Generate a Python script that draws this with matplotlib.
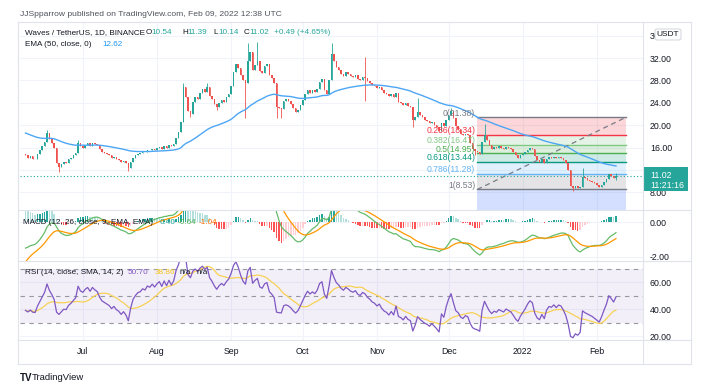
import numpy as np
import pandas as pd
import matplotlib
matplotlib.use('Agg')
import matplotlib.pyplot as plt
import matplotlib.dates as mdates
from matplotlib.lines import Line2D
from matplotlib.patches import Rectangle, FancyBboxPatch

plt.rcParams['font.family'] = ['Liberation Sans', 'DejaVu Sans']

W, H = 704, 388

# Waves / USDT daily closes, Jun 7 2021 -> Feb 9 2022
closes = [
    # Jun 7-30
    14.6, 14.2, 14.5, 14.0, 13.9, 14.8, 15.5, 16.2, 17.0, 18.6, 17.6, 16.9,
    16.0, 13.2, 12.6, 13.0, 13.4, 13.3, 13.9, 14.2, 14.6, 15.0, 16.9, 16.2,
    # Jul
    16.0, 16.5, 16.8, 16.3, 16.9, 16.6, 16.4, 15.7, 15.2, 15.0, 14.8, 14.6,
    14.2, 14.4, 14.0, 13.8, 13.4, 13.6, 13.2, 12.4, 13.4, 14.2, 14.6, 14.9,
    15.0, 15.3, 15.2, 15.6, 15.5, 15.8, 15.6,
    # Aug
    15.9, 16.1, 15.8, 16.3, 16.0, 16.5, 16.2, 16.6, 17.8, 18.7, 20.5, 26.8,
    25.0, 22.5, 22.0, 24.2, 25.0, 24.6, 25.8, 26.5, 26.0, 26.8, 25.2, 24.6,
    23.8, 23.2, 24.0, 24.5, 24.2, 25.0, 25.6,
    # Sep
    27.0, 29.5, 31.0, 30.2, 29.0, 28.0, 27.5, 31.5, 33.0, 29.8, 30.8, 31.5,
    29.6, 29.3, 30.6, 31.0, 29.0, 28.4, 27.6, 23.2, 23.0, 22.9, 24.4, 24.6,
    24.3, 23.8, 23.0, 22.4, 22.8, 23.6,
    # Oct
    24.5, 25.5, 26.3, 25.8, 26.2, 25.9, 26.5, 27.8, 28.2, 26.3, 25.5, 28.0,
    32.8, 31.5, 30.4, 29.9, 29.2, 28.8, 29.5, 29.2, 28.8, 28.6, 28.9, 28.3,
    28.1, 28.6, 28.4, 27.9, 27.6, 27.2, 27.0,
    # Nov
    26.6, 26.8, 26.2, 25.8, 25.6, 25.2, 25.5, 25.0, 25.8, 24.2, 24.0, 23.6,
    23.9, 23.4, 23.2, 21.0, 21.5, 22.3, 21.8, 21.4, 21.0, 20.8, 20.4, 20.6,
    20.1, 19.6, 18.9, 20.4, 19.8, 20.9,
    # Dec
    21.8, 22.5, 21.2, 19.8, 19.4, 18.5, 18.2, 18.5, 18.3, 16.9, 15.8, 15.4,
    15.2, 14.8, 17.0, 18.2, 17.3, 16.4, 15.8, 16.1, 15.9, 16.2, 16.0, 15.8,
    16.1, 15.9, 15.7, 15.2, 14.6, 14.2, 14.6,
    # Jan
    14.9, 15.2, 15.6, 15.9, 15.7, 14.5, 13.8, 13.5, 13.9, 13.3, 14.0, 14.3,
    14.2, 14.4, 14.1, 14.3, 14.2, 13.8, 13.2, 12.0, 9.2, 8.8, 9.1, 8.7,
    8.9, 10.8, 10.5, 10.3, 10.1, 9.9, 9.6,
    # Feb 1-9
    9.3, 9.0, 9.4, 9.9, 10.4, 11.2, 10.9, 10.54, 11.02,
]
first_open = 14.9
wick_high = {'2021-06-16': 19.1, '2021-06-29': 17.3, '2021-08-12': 27.5,
             '2021-08-22': 27.6, '2021-09-08': 34.7, '2021-09-12': 34.9,
             '2021-10-13': 34.7, '2021-10-27': 32.2, '2021-11-18': 24.8,
             '2021-12-02': 23.0, '2021-12-16': 20.3, '2022-01-26': 12.3,
             '2022-02-09': 11.39}
wick_low = {'2021-06-21': 11.7, '2021-07-20': 11.9, '2021-08-15': 21.5,
            '2021-08-26': 22.7, '2021-09-07': 21.3, '2021-09-20': 21.3,
            '2021-09-22': 21.3, '2021-10-27': 24.3, '2021-11-16': 19.7,
            '2021-12-12': 14.7, '2022-01-22': 8.2, '2022-02-09': 10.14}

# indicator states at the first visible bar
ema50_seed = 18.6
ema12_seed, ema26_seed, signal_seed = 14.9, 16.4, -2.3
rsi_gain_seed, rsi_loss_seed = 0.40, 0.62

fib_start, fib_end = '2021-12-13', '2022-02-13'
fib_levels = ['0', '0.236', '0.382', '0.5', '0.618', '0.786', '1']
fib_values = [21.38, 18.34, 16.47, 14.95, 13.44, 11.28, 8.53]
fib_colors = ['#787b86', '#f23645', '#81c784', '#4caf50', '#089981', '#64b5f6', '#787b86']
fib_ext_value, fib_ext_color = 0.59, '#2962ff'

price_ticks = [8, 12, 16, 20, 24, 28, 32, 36]
month_ticks = ['2021-07-01', '2021-08-01', '2021-09-01', '2021-10-01',
               '2021-11-01', '2021-12-01', '2022-01-01', '2022-02-01']
month_labels = ['Jul', 'Aug', 'Sep', 'Oct', 'Nov', 'Dec', '2022', 'Feb']

# ---- derived series
dates = pd.date_range(end='2022-02-09', periods=len(closes))
x = mdates.date2num(dates)
close = np.array(closes)
opens = np.r_[first_open, close[:-1]]
highs = np.maximum(opens, close)
lows = np.minimum(opens, close)
for d, v in wick_high.items():
    highs[dates.get_loc(pd.Timestamp(d))] = v
for d, v in wick_low.items():
    lows[dates.get_loc(pd.Timestamp(d))] = v


def ema(values, seed, n):
    k = 2 / (n + 1)
    out = np.empty(len(values))
    prev = seed
    for i, v in enumerate(values):
        if i > 0:
            prev = prev + k * (v - prev)
        out[i] = prev
    return out


ema50 = ema(close, ema50_seed, 50)
macd = ema(close, ema12_seed, 12) - ema(close, ema26_seed, 26)
signal = ema(macd, signal_seed, 9)
hist = macd - signal

g, l = rsi_gain_seed, rsi_loss_seed
rsi = []
for i in range(len(close)):
    if i > 0:
        d = close[i] - close[i - 1]
        g = (g * 13 + max(d, 0)) / 14
        l = (l * 13 + max(-d, 0)) / 14
    rsi.append(100 - 100 / (1 + g / l))
rsi = np.array(rsi)
rsi_sma = pd.Series(rsi).rolling(14, min_periods=1).mean().values

# ---- figure
fig = plt.figure(figsize=(W / 100, H / 100), dpi=100)


def box(top, bottom):
    return [20 / W, 1 - bottom / H, 623 / W, (bottom - top) / H]


ax_p = fig.add_axes(box(23, 210))
ax_m = fig.add_axes(box(210, 261), sharex=ax_p)
ax_r = fig.add_axes(box(261, 340), sharex=ax_p)

mt = mdates.date2num(pd.to_datetime(month_ticks))
for ax in (ax_p, ax_m, ax_r):
    for s in ax.spines.values():
        s.set_visible(False)
    ax.set_facecolor('none')
    for m in mt:
        ax.axvline(m, color='#f0f3fa', lw=0.8, zorder=0)
    ax.yaxis.tick_right()
    ax.tick_params(axis='y', length=0, pad=5, labelsize=6.3, labelcolor='#131722')
    ax.tick_params(axis='x', length=0)

ax_p.set_xlim(x[0] - 2.3, x[0] + 258.3)
ax_p.set_ylim(4.86, 38.25)
ax_m.set_ylim(-2.25, 0.715)
ax_r.set_ylim(17.3, 75.8)

# price pane
ax_p.set_yticks(price_ticks)
ax_p.set_yticklabels([f'{t:.2f}' for t in price_ticks])
for t in price_ticks:
    ax_p.axhline(t, color='#f0f3fa', lw=0.8, zorder=0)

fs = mdates.date2num(pd.Timestamp(fib_start))
fe = mdates.date2num(pd.Timestamp(fib_end))
for j in range(len(fib_values) - 1):
    ax_p.fill_between([fs, fe], fib_values[j], fib_values[j + 1],
                      color=fib_colors[j + 1], alpha=0.2, lw=0, zorder=1)
ax_p.fill_between([fs, fe], fib_values[-1], fib_ext_value,
                  color=fib_ext_color, alpha=0.2, lw=0, zorder=1)
for lvl, v, c in zip(fib_levels, fib_values, fib_colors):
    ax_p.plot([fs, fe], [v, v], color=c, lw=1.0, zorder=2)
    ax_p.annotate(f'{lvl}({v:.2f})', (fs, v), xytext=(-1.5, 3.2),
                  textcoords='offset points', ha='right', va='center',
                  fontsize=6.2, color=c, zorder=6)
ax_p.plot([fs, fe], [fib_values[-1], fib_values[0]], color='#787b86',
          lw=0.9, ls=(0, (4, 3)), zorder=2)

ax_p.axhline(close[-1], color='#26a69a', lw=0.8, ls=(0, (1, 2)), zorder=2)
ax_p.plot(x, ema50, color='#4da6f5', lw=1.0, zorder=5)

up = close >= opens
ccol = np.where(up, '#26a69a', '#ef5350')
ax_p.vlines(x, lows, highs, colors=ccol, lw=0.6, zorder=3)
body = np.maximum(np.abs(close - opens), 0.08)
ax_p.bar(x, body, bottom=np.minimum(opens, close), width=0.65, color=ccol,
         lw=0, zorder=4)

# MACD pane
ax_m.set_yticks([0, -2])
ax_m.set_yticklabels(['0.00', '-2.00'])
for t in (0, -2):
    ax_m.axhline(t, color='#f0f3fa', lw=0.8, zorder=0)
hcol = []
for i, h in enumerate(hist):
    prev = hist[i - 1] if i > 0 else h
    if h >= 0:
        hcol.append('#26a69a' if h > prev else '#b2dfdb')
    else:
        hcol.append('#ff5252' if h < prev else '#ffcdd2')
ax_m.bar(x, hist, width=0.6, color=hcol, lw=0, zorder=2)
ax_m.plot(x, macd, color='#66bb6a', lw=0.9, zorder=3)
ax_m.plot(x, signal, color='#ff9800', lw=0.9, zorder=3)

# RSI pane
ax_r.set_yticks([60, 40, 20])
ax_r.set_yticklabels(['60.00', '40.00', '20.00'])
for t in (60, 40, 20):
    ax_r.axhline(t, color='#f0f3fa', lw=0.8, zorder=0)
ax_r.axhspan(30, 70, color='#7e57c2', alpha=0.09, lw=0, zorder=1)
for t in (70, 50, 30):
    ax_r.axhline(t, color='#9598a1', lw=0.8, ls=(0, (4, 4)), zorder=2)
ax_r.plot(x, rsi, color='#7e57c2', lw=0.9, zorder=4)
ax_r.plot(x, rsi_sma, color='#f7d154', lw=0.9, zorder=3)

ax_r.set_xticks(mt)
ax_r.set_xticklabels(month_labels)
ax_r.tick_params(axis='x', pad=5, labelsize=6.3, labelcolor='#131722')
plt.setp(ax_p.get_xticklabels(), visible=False)
plt.setp(ax_m.get_xticklabels(), visible=False)

# frame lines
lc = '#e0e3eb'
for (x0, y0, x1, y1) in [(18, 22, 691, 22), (18, 364, 691, 364), (18, 22, 18, 364),
                         (691, 22, 691, 364), (643, 22, 643, 364),
                         (18, 210, 691, 210), (18, 261, 691, 261), (18, 340, 691, 340)]:
    fig.add_artist(Line2D([x0 / W, x1 / W], [1 - y0 / H, 1 - y1 / H], color=lc, lw=0.8))


def ftext(px, py, s, **kw):
    kw.setdefault('fontsize', 5.9)
    kw.setdefault('va', 'center')
    return fig.text(px / W, 1 - py / H, s, **kw)


ftext(20, 14, 'JJSpparrow published on TradingView.com, Feb 09, 2022 12:38 UTC',
      color='#50535e', fontsize=6.1)
ftext(25, 33, 'Waves / TetherUS, 1D, BINANCE', color='#131722')
for px, lab, val in [(146, 'O', '10.54'), (182, 'H', '11.39'), (213, 'L', '10.14'), (244, 'C', '11.02')]:
    ftext(px, 33, lab, color='#131722')
    ftext(px + 5, 33, val, color='#26a69a')
ftext(274, 33, '+0.49 (+4.65%)', color='#26a69a')
ftext(25, 44, 'EMA (50, close, 0)', color='#131722')
ftext(102, 44, '12.62', color='#2196f3')

ftext(23, 222, 'MACD (12, 26, close, 9, EMA, EMA)', color='#131722')
ftext(160, 222, '0.40', color='#26a69a')
ftext(178, 222, '-0.64', color='#4caf50')
ftext(199, 222, '-1.04', color='#ff6d00')

ftext(25, 272, 'RSI (14, close, SMA, 14, 2)', color='#131722')
ftext(128, 272, '50.70', color='#7e57c2')
ftext(155, 272, '38.86', color='#f5c518')
ftext(180, 272, 'n/a', color='#131722')
ftext(197, 272, 'n/a', color='#131722')

# price box and currency tag
fig.add_artist(Rectangle((643 / W, 1 - 191 / H), 45 / W, 24 / H, color='#26a69a', lw=0))
ftext(650, 175.5, '11.02', color='white', fontsize=6.3)
ftext(650, 185, '11:21:16', color='white', fontsize=6.3)
fig.add_artist(FancyBboxPatch((655 / W, 1 - 40 / H), 26 / W, 11 / H,
                              boxstyle='round,pad=0,rounding_size=0.004',
                              fc='white', ec='#d1d4dc', lw=0.7))
ftext(668, 34.5, 'USDT', color='#131722', ha='center', fontsize=6)

ftext(20, 378, 'TV', color='#131722', weight='bold', fontsize=7)
ftext(32, 378, 'TradingView', color='#131722', fontsize=6.8)

fig.savefig('out.png', dpi=100)
